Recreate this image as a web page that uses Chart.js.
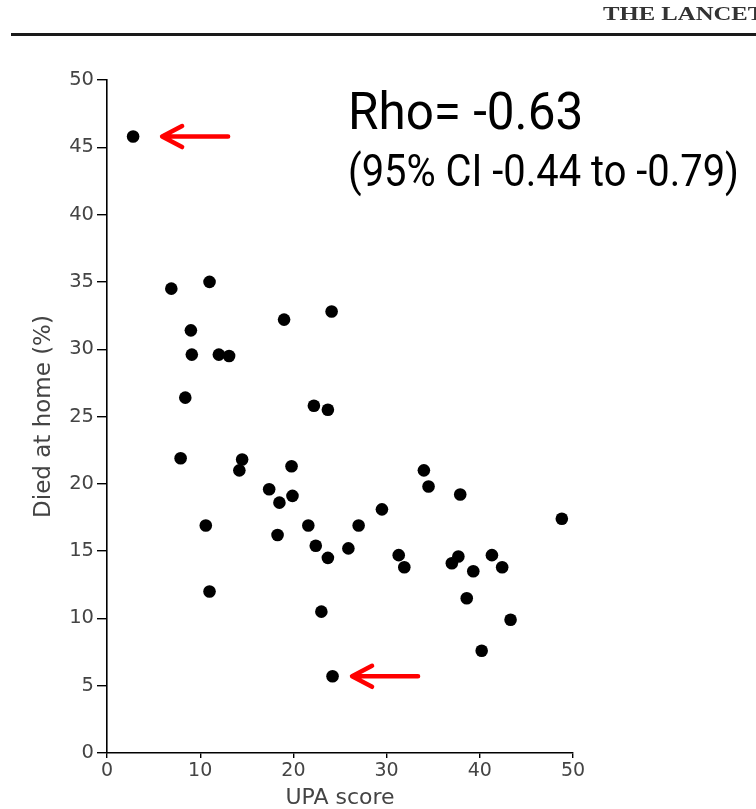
<!DOCTYPE html>
<html>
<head>
<meta charset="utf-8">
<script src="https://cdn.jsdelivr.net/npm/chart.js@4"></script>
<style>
    body { margin: 0; background: #fff; }
    #wrap { position: relative; width: 756px; height: 809px; overflow: hidden; background: #fff; }
    #upa_chart { position: absolute; left: 0; top: 0; }
    .journal { position: absolute; left: 603px; top: 4px; font-family: "Liberation Serif", serif; font-weight: bold;
        font-size: 19px; line-height: 1; color: #333; white-space: nowrap; transform-origin: left top; transform: scaleX(1.3); }
    .rule { position: absolute; left: 11px; top: 33px; width: 745px; height: 3px; background: #1a1a1a; }
    .stat { position: absolute; left: 348px; font-family: Roboto, sans-serif; line-height: 1; color: #000;
        white-space: nowrap; transform-origin: left top; }
</style>
</head>
<body>
<div id="wrap">
    <canvas id="upa_chart" width="756" height="809"></canvas>
    <div class="journal">THE LANCET</div>
    <div class="rule"></div>
    <div class="stat" style="top:86px; font-size:52px; transform: scaleX(0.95);">Rho= -0.63</div>
    <div class="stat" style="top:150px; font-size:43.6px; transform: scaleX(0.915);">(95% CI -0.44 to -0.79)</div>
</div>
<script>
// UPA score vs proportion who died at home, one point per area
const upaScore = [
    2.8, 6.9, 11.0, 9.0, 9.1, 12.0, 13.1, 8.4, 7.9, 14.5, 14.2,
    10.6, 11.0, 19.0, 24.1, 22.2, 23.7, 17.4, 19.8, 18.5, 19.9, 18.3,
    21.6, 22.4, 23.7, 23.0, 24.2, 27.0, 25.9, 29.5, 31.3, 31.9, 34.0,
    34.5, 37.9, 37.0, 37.7, 39.3, 38.6, 41.3, 42.4, 43.3, 40.2, 48.8
];
const diedAtHome = [
    45.8, 34.5, 35.0, 31.4, 29.6, 29.6, 29.5, 26.4, 21.9, 21.8, 21.0,
    16.9, 12.0, 32.2, 32.8, 25.8, 25.5, 19.6, 21.3, 18.6, 19.1, 16.2,
    16.9, 15.4, 14.5, 10.5, 5.7, 16.9, 15.2, 18.1, 14.7, 13.8, 21.0,
    19.8, 19.2, 14.1, 14.6, 13.5, 11.5, 14.7, 13.8, 9.9, 7.6, 17.4
];
const xTicks = [0, 10, 20, 30, 40, 50];
const yTicks = [0, 5, 10, 15, 20, 25, 30, 35, 40, 45, 50];
const xLabel = 'UPA score';
const yLabel = 'Died at home (%)';
// the two outliers marked with red arrows (index into the arrays above)
const markedPoints = [0, 26];

const points = upaScore.map((x, i) => ({ x: x, y: diedAtHome[i] }));

// red arrows pointing back at the marked points
const arrowPlugin = {
    id: 'arrows',
    afterDatasetsDraw(chart, args, opts) {
        const ctx = chart.ctx;
        const xs = chart.scales.x, ys = chart.scales.y;
        markedPoints.forEach((idx, k) => {
            const px = xs.getPixelForValue(upaScore[idx]);
            const py = ys.getPixelForValue(diedAtHome[idx]);
            const tip = px + opts.gaps[k];
            ctx.save();
            ctx.strokeStyle = '#ff0000';
            ctx.lineWidth = 4.5;
            ctx.lineCap = 'round';
            ctx.lineJoin = 'round';
            ctx.beginPath();
            ctx.moveTo(tip + opts.length, py);
            ctx.lineTo(tip + 2, py);
            ctx.moveTo(tip + 20, py - 10.5);
            ctx.lineTo(tip, py);
            ctx.lineTo(tip + 20, py + 10.5);
            ctx.stroke();
            ctx.restore();
        });
    }
};

Chart.defaults.font.family = '"DejaVu Sans", sans-serif';

const ctx = document.getElementById('upa_chart').getContext('2d');
const upa_chart = new Chart(ctx, {
    type: 'scatter',
    data: {
        datasets: [{
            data: points,
            backgroundColor: '#000',
            borderColor: '#000',
            borderWidth: 0,
            pointRadius: 6.3,
        }]
    },
    options: {
        responsive: false,
        animation: false,
        devicePixelRatio: 1,
        layout: { padding: { top: 80, right: 183, left: 0, bottom: 0 } },
        plugins: {
            legend: { display: false },
            tooltip: { enabled: false },
            arrows: { gaps: [29, 19.5], length: 66 },
        },
        scales: {
            x: {
                type: 'linear', min: 0, max: 50,
                afterFit: (s) => { s.height = 56; },
                afterBuildTicks: (s) => { s.ticks = xTicks.map(v => ({ value: v })); },
                border: { color: '#000', width: 1.6 },
                grid: { drawOnChartArea: false, color: '#000', tickLength: 5, lineWidth: 1.4 },
                ticks: { color: '#444', padding: 2, font: { size: 19 } },
                title: { display: true, text: xLabel, color: '#444', padding: 0,
                    font: { size: 22, lineHeight: 1 } },
            },
            y: {
                type: 'linear', min: 0, max: 50,
                afterFit: (s) => { s.width = 107; },
                afterBuildTicks: (s) => { s.ticks = yTicks.map(v => ({ value: v })); },
                border: { color: '#000', width: 1.6 },
                grid: { drawOnChartArea: false, color: '#000', tickLength: 10, lineWidth: 1.4 },
                ticks: { color: '#444', padding: 3, font: { size: 19.5 } },
                title: { display: true, text: yLabel, color: '#444', padding: { top: 33, bottom: 0 },
                    font: { size: 23, lineHeight: 1 } },
            },
        },
    },
    plugins: [arrowPlugin],
});
</script>
</body>
</html>
